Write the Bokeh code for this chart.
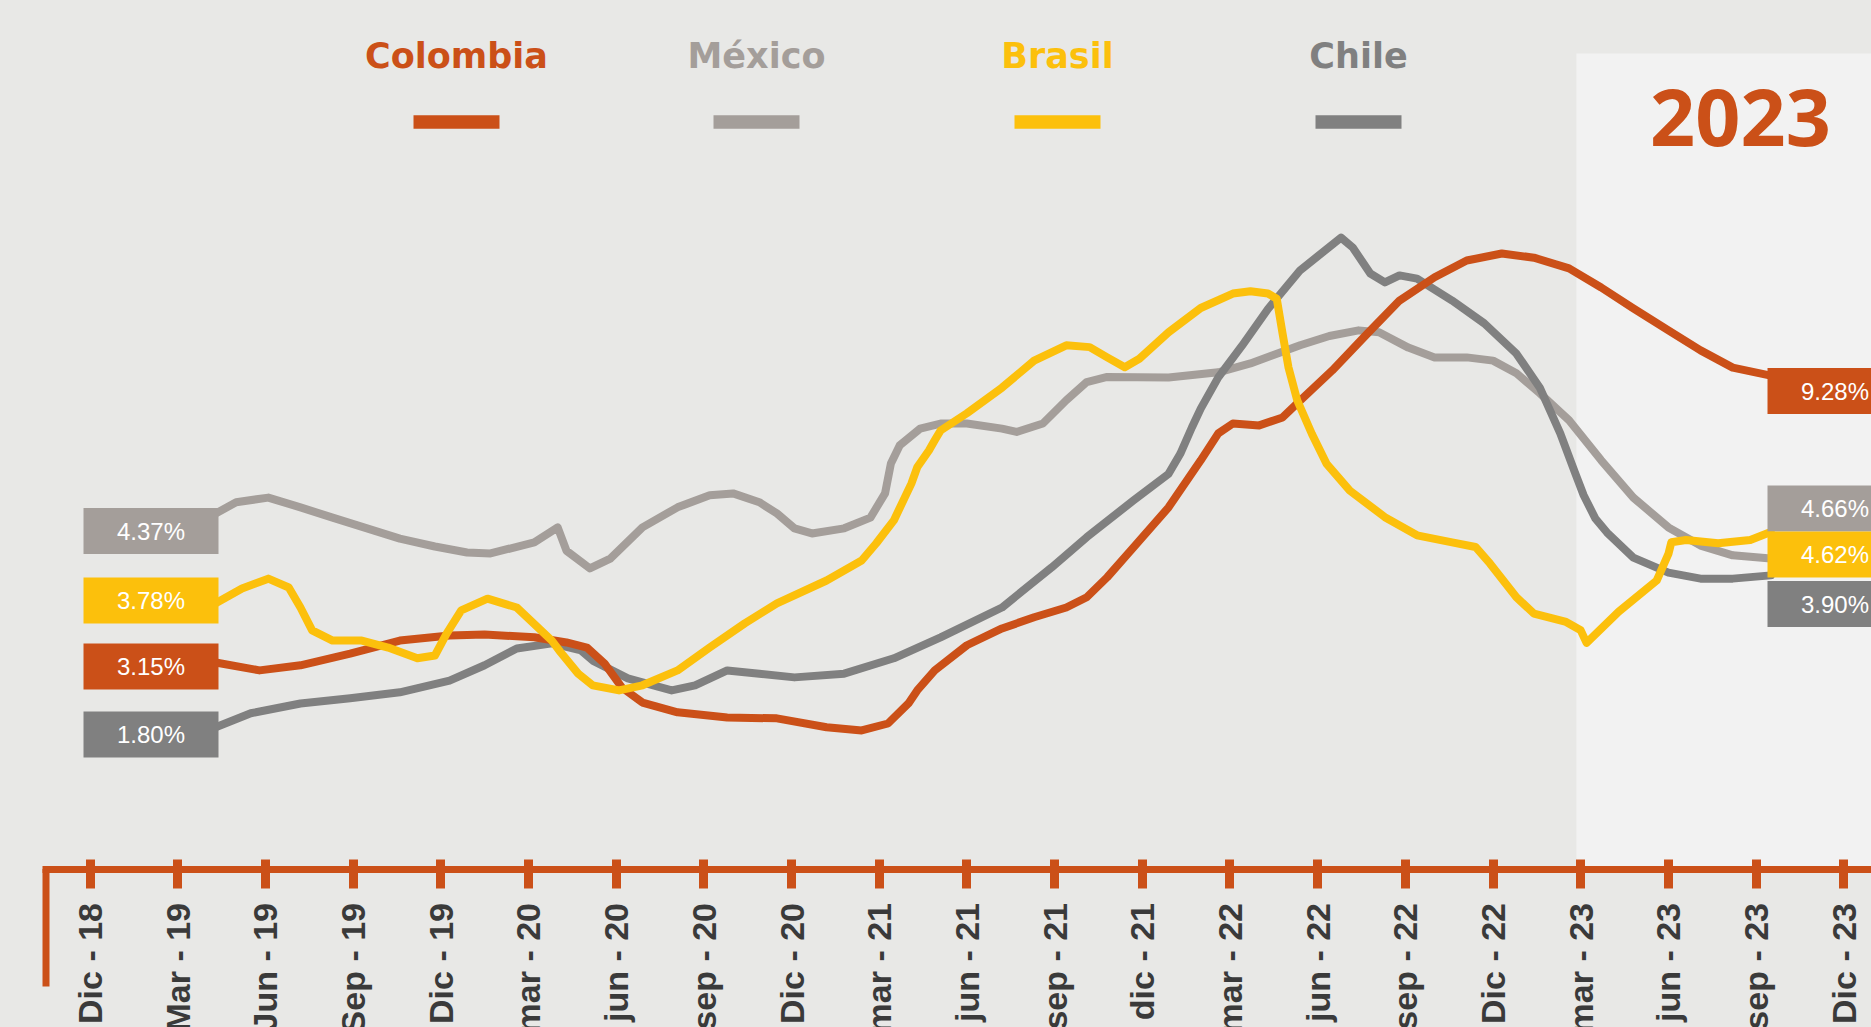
import math
from bokeh.plotting import figure
from bokeh.models import Range1d, LinearAxis, FixedTicker, BoxAnnotation
from bokeh.core.properties import value
from bokeh.embed import file_html
from bokeh.resources import INLINE

# ---------------- data ----------------
series_names = ["Colombia", "México", "Brasil", "Chile"]
series_colors = ["#CB5018", "#A49E9A", "#FCC00C", "#808080"]

# x = months since Dic-18
tick_months = [0, 3, 6, 9, 12, 15, 18, 21, 24, 27, 30, 33, 36, 39, 42, 45, 48, 51, 54, 57, 60]
tick_labels = ["Dic - 18", "Mar - 19", "Jun - 19", "Sep - 19", "Dic - 19", "mar - 20",
               "jun - 20", "sep - 20", "Dic - 20", "mar - 21", "jun - 21", "sep - 21",
               "dic - 21", "mar - 22", "jun - 22", "sep - 22", "Dic - 22", "mar - 23",
               "jun - 23", "sep - 23", "Dic - 23"]

start_labels = ["3.15%", "4.37%", "3.78%", "1.80%"]
end_labels = ["9.28%", "4.66%", "4.62%", "3.90%"]
highlight_label = "2023"
highlight_from_month = 51

colombia_x = [4.3, 5.8, 7.2, 8.9, 10.6, 12.3, 13.5, 15.2, 16.3, 17.0, 17.6, 18.2, 18.9, 20.1, 21.8,
              23.5, 25.2, 26.4, 27.3, 28.0, 28.3, 28.9, 30.0, 31.2, 32.3, 33.4, 34.1, 34.8, 35.7, 36.9,
              38.0, 38.6, 39.1, 40.0, 40.8, 41.4, 42.5, 43.7, 44.8, 46.0, 47.1, 48.3, 49.4, 50.6, 51.7,
              52.8, 54.0, 55.1, 56.2, 57.5]
colombia_y = [3.21, 3.04, 3.15, 3.40, 3.68, 3.79, 3.81, 3.75, 3.64, 3.53, 3.19, 2.67, 2.35, 2.14, 2.03,
              2.01, 1.82, 1.75, 1.90, 2.33, 2.61, 3.04, 3.58, 3.94, 4.18, 4.39, 4.61, 5.04, 5.68, 6.54,
              7.55, 8.13, 8.34, 8.30, 8.47, 8.83, 9.48, 10.27, 10.98, 11.48, 11.84, 11.99, 11.90, 11.67, 11.26,
              10.81, 10.34, 9.91, 9.54, 9.37]

mexico_x = [4.3, 5.0, 6.1, 7.2, 8.3, 10.6, 11.8, 12.9, 13.7, 15.2, 16.0, 16.3, 17.1, 17.8, 18.9, 20.1,
            21.2, 22.0, 22.9, 23.5, 24.1, 24.7, 25.8, 26.7, 27.2, 27.4, 27.7, 28.4, 29.1, 30.0, 31.2,
            31.7, 32.6, 33.4, 34.1, 34.8, 36.9, 38.6, 39.7, 41.4, 42.4, 43.4, 44.1, 45.1, 46.0, 47.1,
            48.0, 48.8, 49.6, 50.6, 51.7, 52.8, 54.0, 55.1, 56.2, 57.5]
mexico_y = [6.41, 6.65, 6.75, 6.54, 6.32, 5.87, 5.70, 5.57, 5.55, 5.79, 6.11, 5.61, 5.23, 5.44, 6.11, 6.54,
            6.80, 6.84, 6.65, 6.41, 6.09, 5.98, 6.09, 6.32, 6.84, 7.48, 7.87, 8.23, 8.34, 8.34, 8.23,
            8.16, 8.34, 8.84, 9.23, 9.34, 9.33, 9.44, 9.63, 10.02, 10.22, 10.34, 10.30, 9.97, 9.76, 9.76,
            9.69, 9.42, 8.99, 8.41, 7.55, 6.75, 6.11, 5.72, 5.51, 5.44]

brasil_x = [4.3, 5.2, 6.1, 6.8, 7.2, 7.6, 8.3, 9.3, 10.2, 11.2, 11.8, 12.2, 12.7, 13.6, 14.6,
            15.8, 16.1, 16.7, 17.2, 18.1, 18.9, 20.1, 21.2, 22.4, 23.5, 25.2, 26.4, 26.9, 27.5, 28.1,
            28.3, 28.7, 28.9, 29.1, 30.0, 31.2, 32.3, 33.4, 34.2, 34.8, 35.4, 35.9, 36.9, 38.0, 39.1,
            39.7, 40.3, 40.6, 40.8, 41.0, 41.3, 41.8, 42.3, 43.1, 44.3, 45.4, 46.6, 47.4, 47.9, 48.8,
            49.4, 50.5, 51.0, 51.2, 52.3, 53.6, 53.7, 54.0, 54.1, 54.6, 55.7, 56.8, 57.5]
brasil_y = [4.48, 4.80, 5.01, 4.82, 4.39, 3.90, 3.68, 3.68, 3.53, 3.30, 3.36, 3.83, 4.33, 4.58, 4.39,
            3.68, 3.43, 2.97, 2.72, 2.61, 2.72, 3.04, 3.53, 4.05, 4.48, 4.97, 5.40, 5.77, 6.26, 7.05,
            7.40, 7.76, 7.98, 8.19, 8.56, 9.11, 9.69, 10.02, 9.98, 9.76, 9.55, 9.73, 10.30, 10.82, 11.13,
            11.18, 11.13, 11.02, 10.27, 9.55, 8.84, 8.12, 7.48, 6.90, 6.33, 5.94, 5.79, 5.69, 5.33, 4.61,
            4.26, 4.08, 3.90, 3.63, 4.30, 4.97, 5.11, 5.54, 5.79, 5.84, 5.77, 5.84, 6.01]

chile_x = [4.3, 5.5, 7.2, 8.9, 10.6, 12.3, 13.5, 14.6, 15.8, 16.8, 17.2, 18.4, 19.9, 20.7, 21.8,
           22.9, 24.1, 25.8, 27.5, 29.1, 31.2, 32.9, 34.1, 35.7, 36.9, 37.3, 37.7, 38.0, 38.6, 39.4,
           40.3, 41.4, 42.8, 43.2, 43.8, 44.3, 44.8, 45.4, 46.6, 47.7, 48.8, 49.6, 50.3, 50.8, 51.1,
           51.5, 51.9, 52.8, 54.0, 55.1, 56.2, 57.5]
chile_y = [1.82, 2.12, 2.33, 2.44, 2.57, 2.82, 3.15, 3.51, 3.62, 3.47, 3.25, 2.87, 2.61, 2.72, 3.04,
           2.97, 2.89, 2.97, 3.30, 3.75, 4.39, 5.25, 5.90, 6.69, 7.26, 7.69, 8.26, 8.66, 9.33, 10.00,
           10.80, 11.63, 12.33, 12.12, 11.56, 11.37, 11.52, 11.45, 10.98, 10.49, 9.84, 9.11, 8.13, 7.29, 6.80,
           6.30, 6.00, 5.46, 5.14, 5.01, 5.01, 5.08]

series_x = [colombia_x, mexico_x, brasil_x, chile_x]
series_y = [colombia_y, mexico_y, brasil_y, chile_y]

# ---------------- layout (page pixels) ----------------
W, H = 1871, 1027
BG = "#E8E8E6"
PANEL = "#F2F2F2"
X_MONTH0 = 89.5      # page x of month 0
PX_PER_MONTH = 29.23
Y_ZERO = 811.5       # page y of value 0
PX_PER_UNIT = 46.58


def px2x(px):
    return (px - X_MONTH0) / PX_PER_MONTH


def py2y(py):
    return (Y_ZERO - py) / PX_PER_UNIT


p = figure(width=W, height=H,
           x_range=Range1d(px2x(0), px2x(W)),
           y_range=Range1d(py2y(H), py2y(0)),
           x_axis_type=None, y_axis_type=None,
           toolbar_location=None, output_backend="svg", min_border=0,
           background_fill_color=BG, border_fill_color=BG, outline_line_color=None)

axis_y = py2y(868.5)
orange = series_colors[0]

# highlighted 2023 panel
p.add_layout(BoxAnnotation(left=highlight_from_month - 0.15, right=px2x(1900),
                           top=py2y(53), bottom=axis_y,
                           fill_color=PANEL, fill_alpha=1.0, line_color=None, level="underlay"))

p.text(x=[px2x(1740)], y=[py2y(116.5)], text=[highlight_label], text_color=orange,
       text_font=value("Noto Sans"), text_font_style="bold", text_font_size="79px",
       text_align="center", text_baseline="middle")

# lines (draw order: México, Chile, Colombia, Brasil)
for idx in [1, 3, 0, 2]:
    p.line(series_x[idx], series_y[idx], line_color=series_colors[idx], line_width=8,
           line_join="round", line_cap="round")

# start / end value boxes
left_centers = [666, 530.5, 600, 734]
right_centers = [390.5, 508, 554, 603.5]
lx = [px2x(150.5)] * 4
rx = [px2x(1834.5)] * 4
ly = [py2y(c) for c in left_centers]
ry = [py2y(c) for c in right_centers]
p.rect(x=lx, y=ly, width=135, height=46, width_units="screen", height_units="screen",
       fill_color=series_colors, line_color=None)
p.rect(x=rx, y=ry, width=135, height=46, width_units="screen", height_units="screen",
       fill_color=series_colors, line_color=None)
p.text(x=lx, y=ly, text=start_labels, text_color="white", text_font=value("Liberation Sans"),
       text_font_size="24px", text_align="center", text_baseline="middle")
p.text(x=rx, y=ry, text=end_labels, text_color="white", text_font=value("Liberation Sans"),
       text_font_size="24px", text_align="center", text_baseline="middle")

# legend
leg_cx = [456, 756, 1057, 1358]
p.text(x=[px2x(c) for c in leg_cx], y=[py2y(55.5)] * 4, text=series_names,
       text_color=series_colors, text_font=value("DejaVu Sans"), text_font_style="bold",
       text_font_size="35px", text_align="center", text_baseline="middle")
p.rect(x=[px2x(c) for c in leg_cx], y=[py2y(121.5)] * 4, width=86, height=13.5,
       width_units="screen", height_units="screen", fill_color=series_colors, line_color=None)

# x axis
xaxis = LinearAxis(ticker=FixedTicker(ticks=tick_months),
                   major_label_overrides={m: lab for m, lab in zip(tick_months, tick_labels)},
                   fixed_location=axis_y, bounds=(px2x(42), px2x(1900)))
xaxis.axis_line_color = orange
xaxis.axis_line_width = 7
xaxis.major_tick_line_color = orange
xaxis.major_tick_line_width = 9
xaxis.major_tick_in = 10
xaxis.major_tick_out = 19
xaxis.minor_tick_line_color = None
xaxis.major_label_standoff = 15
xaxis.major_label_orientation = math.pi / 2
xaxis.major_label_text_font = "Liberation Sans"
xaxis.major_label_text_font_style = "bold"
xaxis.major_label_text_font_size = "34px"
xaxis.major_label_text_color = "#3A3A3A"
p.add_layout(xaxis, "below")

# corner drop line of the axis
p.segment(x0=[px2x(45.5)], y0=[axis_y], x1=[px2x(45.5)], y1=[py2y(986)],
          line_color=orange, line_width=7)

html = file_html(p, INLINE, title="Inflación")
html = html.replace("</head>", "<style>html,body{background:#E8E8E6;}</style></head>", 1)
open("out.html", "w").write(html)
